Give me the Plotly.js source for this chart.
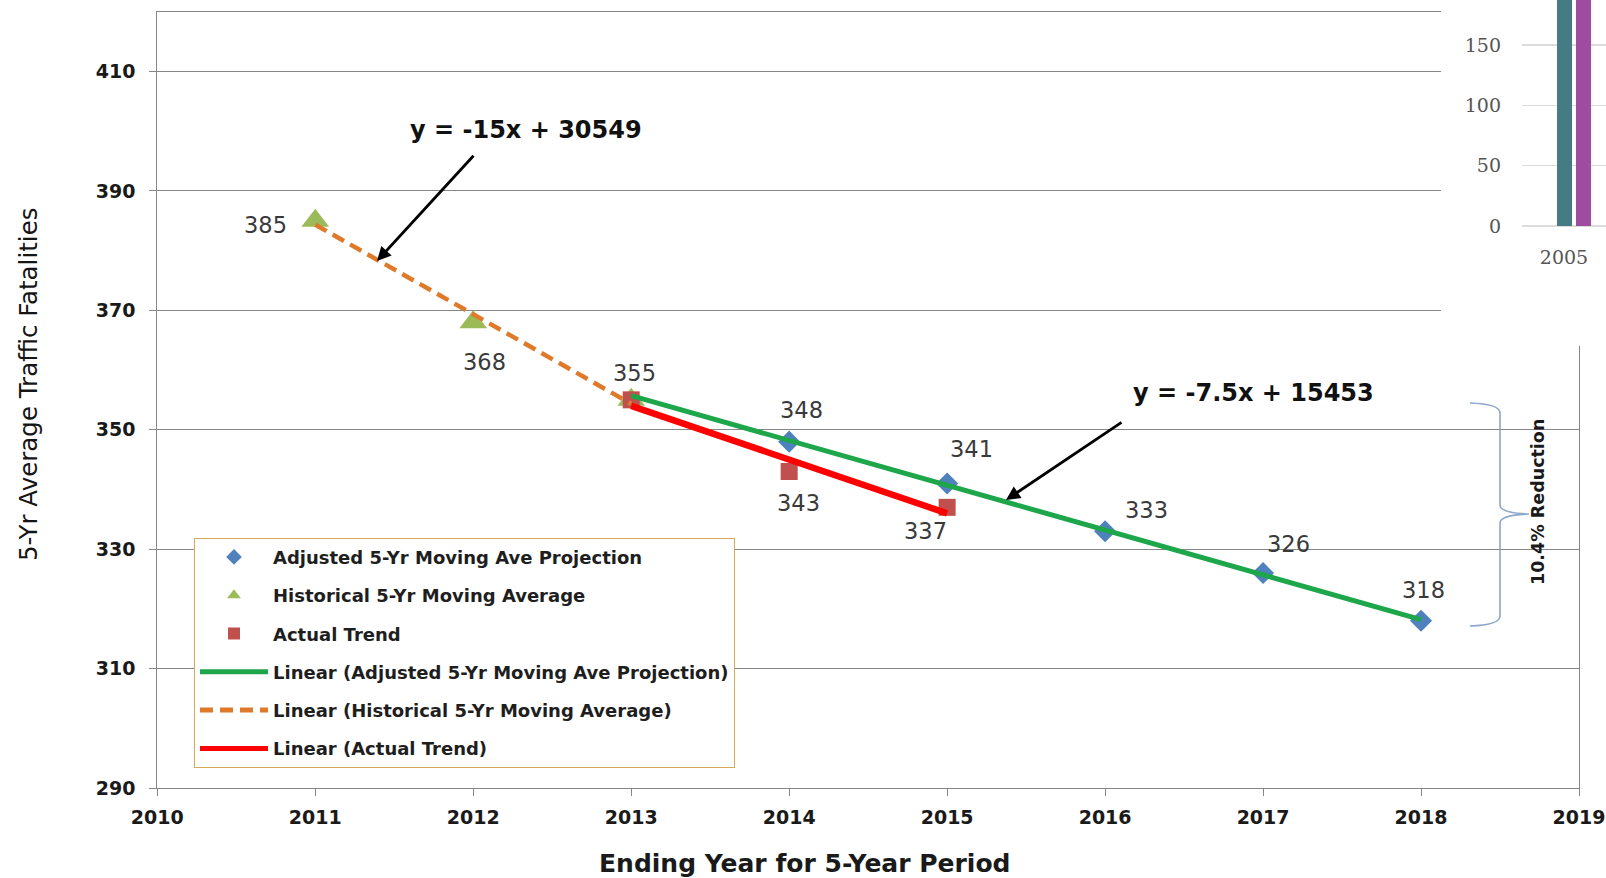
<!DOCTYPE html>
<html><head><meta charset="utf-8">
<script src="https://cdn.plot.ly/plotly-3.0.1.min.js"></script>
<style>html,body{margin:0;padding:0;background:#fff;overflow:hidden}#chart{width:1606px;height:878px}</style>
</head><body><div id="chart"></div>
<script>
// ---------------- data ----------------
const adjYears = [2014, 2015, 2016, 2017, 2018];
const adjValues = [348, 341, 333, 326, 318];
const histYears = [2011, 2012, 2013];
const histValues = [385, 368, 355];
const actYears = [2013, 2014, 2015];
const actValues = [355, 343, 337];
const yTickVals = [290, 310, 330, 350, 370, 390, 410];
const xTickVals = [2010, 2011, 2012, 2013, 2014, 2015, 2016, 2017, 2018, 2019];
const seriesNames = ['Adjusted 5-Yr Moving Ave Projection', 'Historical 5-Yr Moving Average', 'Actual Trend'];
const reductionLabel = '10.4% Reduction';
// inset fragment (partially visible second chart)
const insetCategories = ['2005'];
const insetSeriesA = [215];
const insetSeriesB = [212];
const insetTickVals = [0, 50, 100, 150];

// ---------------- helpers ----------------
const W = 1606, H = 878;
const px = x => x / W, py = y => 1 - y / H;
function fit(xs, ys) {
  const n = xs.length;
  const mx = xs.reduce((a, b) => a + b, 0) / n, my = ys.reduce((a, b) => a + b, 0) / n;
  let sxy = 0, sxx = 0;
  for (let i = 0; i < n; i++) { sxy += (xs[i] - mx) * (ys[i] - my); sxx += (xs[i] - mx) ** 2; }
  const slope = sxy / sxx, intercept = my - slope * mx;
  return { slope, intercept, f: x => slope * x + intercept };
}
const fAdj = fit(adjYears, adjValues), fHist = fit(histYears, histValues), fAct = fit(actYears, actValues);
const eqText = ft => 'y = ' + (Math.round(ft.slope * 10) / 10) + 'x + ' + Math.round(ft.intercept);
const adjBackward = 1;
const adjLineX = [Math.min(...adjYears) - adjBackward, Math.max(...adjYears)];
const histLineX = [Math.min(...histYears), Math.max(...histYears)];
const actLineX = [Math.min(...actYears), Math.max(...actYears)];

const FONT = 'DejaVu Sans';
const legendFont = { family: FONT, size: 18, color: '#1e1e1e', weight: 'bold' };

const traces = [
  { type: 'scatter', mode: 'markers', name: seriesNames[0], x: adjYears, y: adjValues, legendgroup: 'g1',
    marker: { symbol: 'diamond', size: 17, color: '#4f81bd' }, hoverinfo: 'x+y' },
  { type: 'scatter', mode: 'markers', name: seriesNames[1], x: histYears, y: histValues, legendgroup: 'g2',
    marker: { symbol: 'triangle-up', size: 24, color: '#9bbb59' }, hoverinfo: 'x+y' },
  { type: 'scatter', mode: 'markers', name: seriesNames[2], x: actYears, y: actValues, legendgroup: 'g3',
    marker: { symbol: 'square', size: 17, color: '#c0504d' }, hoverinfo: 'x+y' },
  { type: 'scatter', mode: 'lines', name: 'Linear (' + seriesNames[0] + ')', x: adjLineX, y: adjLineX.map(fAdj.f), legendgroup: 'g4',
    line: { color: '#1ea64b', width: 5 }, hoverinfo: 'skip' },
  { type: 'scatter', mode: 'lines', name: 'Linear (' + seriesNames[1] + ')', x: histLineX, y: histLineX.map(fHist.f), legendgroup: 'g5',
    line: { color: '#e07a2b', width: 4.5, dash: '13px,7px' }, hoverinfo: 'skip' },
  { type: 'scatter', mode: 'lines', name: 'Linear (' + seriesNames[2] + ')', x: actLineX, y: actLineX.map(fAct.f), legendgroup: 'g6',
    line: { color: '#ff0000', width: 6.5 }, hoverinfo: 'skip' },
  // cover subplot (white background of the overlapping fragment)
  { type: 'scatter', mode: 'markers', x: [], y: [], xaxis: 'x2', yaxis: 'y2', showlegend: false, hoverinfo: 'skip' },
  // inset bars
  { type: 'bar', x: insetCategories.map(Number), y: insetSeriesA, xaxis: 'x3', yaxis: 'y3', showlegend: false,
    marker: { color: '#457b82' }, hoverinfo: 'skip' },
  { type: 'bar', x: insetCategories.map(Number), y: insetSeriesB, xaxis: 'x3', yaxis: 'y3', showlegend: false,
    marker: { color: '#9f4ba0' }, hoverinfo: 'skip' }
];

// ---------------- data labels ----------------
const labelFont = { family: FONT, size: 22.5, color: '#3a3a3a' };
const histShift = [[-50, -4], [11, -40], [3, 27]];
const adjShift = [[12, 32], [24, 34], [41, 21], [25, 29], [2, 31]];
const actShift = [null, [9, -31], [-22, -24]];
const annotations = [];
function addLabels(xs, ys, shifts) {
  xs.forEach((x, i) => {
    if (!shifts[i]) return;
    annotations.push({ xref: 'x', yref: 'y', x: x, y: ys[i], text: String(ys[i]), showarrow: false,
      xshift: shifts[i][0], yshift: shifts[i][1], font: labelFont, xanchor: 'center', yanchor: 'middle' });
  });
}
addLabels(histYears, histValues, histShift);
addLabels(adjYears, adjValues, adjShift);
addLabels(actYears, actValues, actShift);

function note(xPx, yPx, text, font, extra) {
  return Object.assign({ xref: 'paper', yref: 'paper', x: px(xPx), y: py(yPx), text: text, showarrow: false,
    xanchor: 'center', yanchor: 'middle', font: font }, extra || {});
}
// equations and arrows
const eqFont = { family: FONT, size: 24, color: '#111', weight: 'bold' };
annotations.push(note(526, 130, eqText(fHist), eqFont));
annotations.push(note(1253, 393, eqText(fAdj), eqFont));
annotations.push({ xref: 'paper', yref: 'paper', x: px(377), y: py(261), ax: 100, ay: -109, text: ' ', showarrow: true,
  arrowhead: 2, arrowsize: 1, arrowwidth: 2.8, arrowcolor: '#000' });
annotations.push({ xref: 'paper', yref: 'paper', x: px(1006), y: py(500), ax: 119, ay: -80, text: ' ', showarrow: true,
  arrowhead: 2, arrowsize: 1, arrowwidth: 2.8, arrowcolor: '#000' });
// axis titles
annotations.push(note(805, 863, 'Ending Year for 5-Year Period', { family: FONT, size: 25, color: '#1a1a1a', weight: 'bold' }));
annotations.push(note(29, 385, '5-Yr Average Traffic Fatalities', { family: FONT, size: 24.5, color: '#151515' }, { textangle: -90 }));
// reduction label
annotations.push(note(1538, 502, reductionLabel, { family: FONT, size: 17.5, color: '#1a1a1a', weight: 'bold' }, { textangle: -90 }));

// brace
function pathPx(cmds) {
  return cmds.map(c => c[0] + c.slice(1).map((v, i) => (i % 2 === 0 ? px(v) : py(v)).toFixed(5)).join(',')).join(' ');
}
const brace = pathPx([['M', 1470, 403], ['Q', 1500, 404, 1500, 413], ['L', 1500, 505], ['Q', 1500, 513, 1529, 514],
  ['Q', 1500, 515, 1500, 523], ['L', 1500, 616], ['Q', 1500, 625, 1470, 626]]);
const shapes = [{ type: 'path', xref: 'paper', yref: 'paper', path: brace, line: { color: '#8ba7c9', width: 1.6 }, layer: 'above' }];

const axisGray = '#868686';
const tickFont = { family: FONT, size: 19, color: '#1a1a1a', weight: 'bold' };
const layout = {
  width: W, height: H, margin: { l: 0, r: 0, t: 0, b: 0 },
  paper_bgcolor: '#ffffff', plot_bgcolor: '#ffffff',
  font: { family: FONT },
  showlegend: true,
  barmode: 'group', bargap: 0.367, bargroupgap: 0.21,
  xaxis: { domain: [px(157.3), px(1579)], range: [2010, 2019], tickvals: xTickVals, ticktext: xTickVals.map(String),
    showgrid: false, zeroline: false, showline: true, linecolor: axisGray, linewidth: 1, mirror: true,
    ticks: 'outside', ticklen: 7, tickcolor: axisGray, ticklabelstandoff: 5,
    tickfont: tickFont, fixedrange: true },
  yaxis: { domain: [py(788), py(11.7)], range: [290, 420], tickvals: yTickVals, ticktext: yTickVals.map(String),
    showgrid: true, gridcolor: axisGray, gridwidth: 1, zeroline: false, showline: true, linecolor: axisGray, linewidth: 1, mirror: true,
    ticks: 'outside', ticklen: 7, tickcolor: axisGray, ticklabelstandoff: 10,
    tickfont: tickFont, fixedrange: true },
  xaxis2: { domain: [px(1441), 1], anchor: 'y2', visible: false, range: [0, 1], fixedrange: true },
  yaxis2: { domain: [py(346), 1], anchor: 'x2', visible: false, range: [0, 1], fixedrange: true },
  xaxis3: { domain: [px(1522), 1], anchor: 'y3', range: [2004.133, 2005.533], tickvals: insetCategories.map(Number), ticktext: insetCategories,
    showgrid: false, zeroline: false, showline: false, ticks: '', ticklabelshift: -10, ticklabelstandoff: 18,
    tickfont: { family: 'DejaVu Serif', size: 19, color: '#555' }, fixedrange: true },
  yaxis3: { domain: [py(226), 1], anchor: 'x3', range: [0, 187.3], tickvals: insetTickVals, ticktext: insetTickVals.map(String),
    showgrid: true, gridcolor: '#dcdcdc', gridwidth: 1.5, zeroline: true, zerolinecolor: '#dcdcdc', zerolinewidth: 1.5,
    showline: false, ticks: '', ticklabelstandoff: 20,
    tickfont: { family: 'DejaVu Serif', size: 19, color: '#555' }, fixedrange: true },
  legend: { x: px(194), y: py(537.7), xanchor: 'left', yanchor: 'top', bgcolor: '#ffffff', bordercolor: '#d4aa5c', borderwidth: 1,
    traceorder: 'grouped', tracegroupgap: 11.9, itemsizing: 'constant', itemwidth: 68, font: legendFont, itemclick: false, itemdoubleclick: false },
  annotations: annotations,
  shapes: shapes
};

Plotly.newPlot('chart', traces, layout, { displayModeBar: false, staticPlot: true });
</script>
</body></html>
